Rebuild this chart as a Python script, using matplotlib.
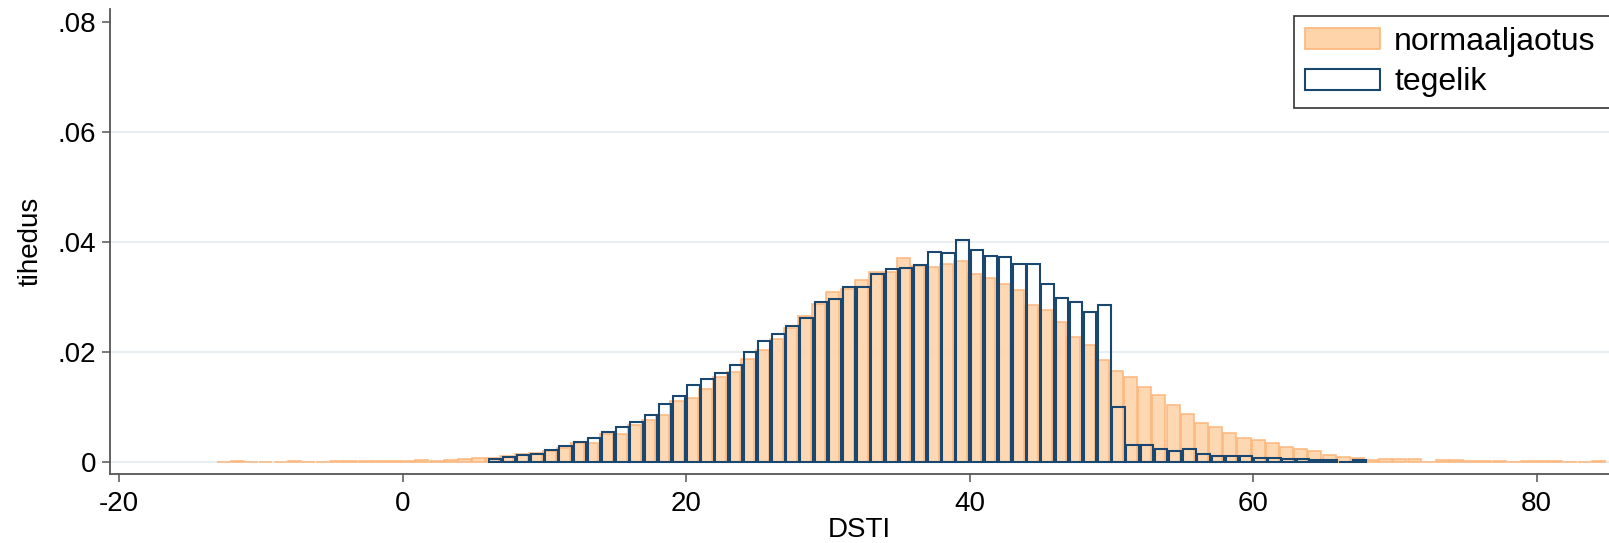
import numpy as np
import matplotlib
matplotlib.use('Agg')
import matplotlib.pyplot as plt
from matplotlib.patches import Patch

plt.rcParams['font.family'] = ['Liberation Sans', 'DejaVu Sans']
plt.rcParams['axes.unicode_minus'] = False

# ── DATA (density per 1-unit DSTI bin, bin left edges) ──────────────────────
normal_bins = np.arange(-13, 85)
normal_density = [
    0, 0.0001, 0, 0, 0.00005, 0.0002, 0.00005, 0, 0.0001, 0.0001,       # -13..-4
    0.0001, 0.0001, 0.0001, 0.0001, 0.0004, 0.0001, 0.0003, 0.0005,     # -3..4
    0.0007, 0.0007, 0.0011, 0.0014, 0.0016, 0.0020, 0.0026, 0.0034,     # 5..12
    0.0035, 0.0051, 0.0051, 0.0068, 0.0076, 0.0085, 0.0110, 0.0116,     # 13..20
    0.0132, 0.0155, 0.0164, 0.0188, 0.0203, 0.0223, 0.0243, 0.0266,     # 21..28
    0.0287, 0.0309, 0.0315, 0.0330, 0.0346, 0.0345, 0.0370, 0.0357,     # 29..36
    0.0355, 0.0359, 0.0365, 0.0341, 0.0335, 0.0323, 0.0312, 0.0286,     # 37..44
    0.0276, 0.0254, 0.0228, 0.0212, 0.0186, 0.0166, 0.0155, 0.0137,     # 45..52
    0.0122, 0.0104, 0.0088, 0.0071, 0.0063, 0.0053, 0.0044, 0.0039,     # 53..60
    0.0034, 0.0027, 0.0023, 0.0019, 0.0013, 0.0009, 0.0008, 0.0004,     # 61..68
    0.0005, 0.0005, 0.0005, 0, 0.0003, 0.0003, 0.0001, 0.0001,          # 69..76
    0.0001, 0.00005, 0.0001, 0.0001, 0.0001, 0.00005, 0, 0.0001,        # 77..84
]

actual_bins = np.arange(6, 68)
actual_density = [
    0.0006, 0.0009, 0.0012, 0.0015, 0.0022, 0.0029, 0.0037, 0.0044,     # 6..13
    0.0055, 0.0064, 0.0072, 0.0085, 0.0105, 0.0119, 0.0140, 0.0150,     # 14..21
    0.0162, 0.0176, 0.0200, 0.0220, 0.0232, 0.0248, 0.0262, 0.0291,     # 22..29
    0.0297, 0.0318, 0.0318, 0.0342, 0.0351, 0.0352, 0.0358, 0.0381,     # 30..37
    0.0380, 0.0404, 0.0385, 0.0375, 0.0372, 0.0360, 0.0360, 0.0324,     # 38..45
    0.0298, 0.0291, 0.0273, 0.0285, 0.0100, 0.0031, 0.0031, 0.0023,     # 46..53
    0.0019, 0.0023, 0.0015, 0.0011, 0.0011, 0.0010, 0.0008, 0.0007,     # 54..61
    0.0005, 0.0005, 0.0004, 0.0003, 0, 0.0003,                          # 62..67
]

labels = ['normaaljaotus', 'tegelik']
y_ticks = [0, 0.02, 0.04, 0.06, 0.08]
y_ticklabels = ['0', '.02', '.04', '.06', '.08']
x_ticks = [-20, 0, 20, 40, 60, 80]

orange_face = '#FED4AA'
orange_edge = '#FDB57A'
navy = '#1A476F'

# ── FIGURE ──────────────────────────────────────────────────────────────────
W, H = 1609, 543
fig = plt.figure(figsize=(W / 100, H / 100), dpi=100)
ax = fig.add_axes([110 / W, 1 - 474.4 / H, 1 - 110 / W, (474.4 - 8.7) / H])

ax.bar(normal_bins + 0.5 - 0.15, normal_density, width=0.92,
       facecolor=orange_face, edgecolor=orange_edge, linewidth=1.2,
       alpha=0.9, zorder=2)
ax.bar(actual_bins + 0.5, actual_density, width=0.88,
       facecolor='none', edgecolor=navy, linewidth=1.5, zorder=3)

ax.set_xlim(-20.65, 85.1)
ax.set_ylim(-0.00227, 0.0824)
ax.set_yticks(y_ticks)
ax.set_yticklabels(y_ticklabels)
ax.set_xticks(x_ticks)
ax.grid(axis='y', color='#E6EDF1', linewidth=1.3, zorder=0)
ax.get_ygridlines()[-1].set_visible(False)
ax.set_axisbelow(True)

for s in ['top', 'right']:
    ax.spines[s].set_visible(False)
for s in ['left', 'bottom']:
    ax.spines[s].set_color('#555555')
    ax.spines[s].set_linewidth(1.3)

ax.tick_params(axis='both', labelsize=20, length=6, width=1.1,
               color='#555555', direction='out')
ax.tick_params(axis='x', pad=6)
ax.tick_params(axis='y', pad=4)

ax.set_xlabel('DSTI', fontsize=20, labelpad=0)
ax.set_ylabel('tihedus', fontsize=20, labelpad=10)

# legend box runs past the right edge, as in the reference
handles = [Patch(facecolor=orange_face, edgecolor=orange_edge, linewidth=1.2),
           Patch(facecolor='white', edgecolor=navy, linewidth=1.5)]
leg = ax.legend(handles, labels, loc='upper left', mode='expand',
                bbox_to_anchor=(1294 / W, 1 - 105 / H, 330 / W, 89.3 / H),
                bbox_transform=fig.transFigure,
                fontsize=23, frameon=True, fancybox=False,
                handlelength=2.35, handleheight=0.62, handletextpad=0.45,
                labelspacing=0.34, borderpad=0.34, borderaxespad=0)
leg.get_frame().set_edgecolor('black')
leg.get_frame().set_linewidth(1.2)

plt.savefig('out.png', dpi=100)
